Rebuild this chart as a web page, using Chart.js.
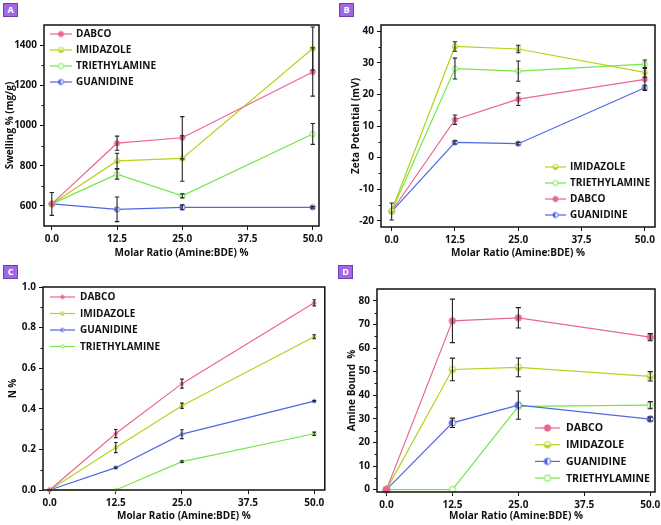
<!DOCTYPE html>
<html><head><meta charset="utf-8">
<script src="https://cdn.jsdelivr.net/npm/chart.js@4.4.1/dist/chart.umd.min.js"></script>
<style>
html,body{margin:0;padding:0;background:#fff;width:661px;height:525px;overflow:hidden;position:relative;}
.p{position:absolute;}
.badge{position:absolute;width:13px;height:12px;background:#a168e6;border:1px solid #6c3fb5;color:#fff;font:bold 9px "Open Sans",sans-serif;line-height:12px;text-align:center;}
</style></head><body>
<div class="p" style="left:0;top:0"><canvas id="cA" width="330" height="262"></canvas></div>
<div class="p" style="left:330;top:0;left:330px"><canvas id="cB" width="331" height="262"></canvas></div>
<div class="p" style="left:0;top:262px"><canvas id="cC" width="330" height="263"></canvas></div>
<div class="p" style="left:330px;top:262px"><canvas id="cD" width="345" height="263"></canvas></div>
<div class="badge" style="left:3px;top:3px">A</div>
<div class="badge" style="left:339px;top:3px">B</div>
<div class="badge" style="left:3px;top:265px">C</div>
<div class="badge" style="left:338px;top:265px">D</div>
<script>
// ---------- data ----------
const X = [0, 12.5, 25, 50];
const xTicks = [0, 12.5, 25, 37.5, 50];

const A_DABCO = [610, 912, 939, 1266], A_DABCO_ERR = [0, 35, 105, 120];
const A_IMID  = [610, 824, 836, 1383], A_IMID_ERR  = [0, 38, 113, 107];
const A_TEA   = [610, 758, 650, 958],  A_TEA_ERR   = [0, 25, 10, 52];
const A_GUAN  = [610, 583, 593, 593],  A_GUAN_ERR  = [57, 61, 12, 4];
const yTicksA = [600, 800, 1000, 1200, 1400];

const B_IMID  = [-16.8, 35.2, 34.4, 27.0], B_IMID_ERR  = [0, 1.5, 1.2, 1.5];
const B_TEA   = [-17.0, 28.2, 27.4, 29.6], B_TEA_ERR   = [0, 3.3, 3.2, 1.3];
const B_DABCO = [-17.0, 12.0, 18.5, 24.8], B_DABCO_ERR = [0, 1.5, 2.0, 3.5];
const B_GUAN  = [-17.1, 4.8, 4.4, 22.1],   B_GUAN_ERR  = [2.7, 0.5, 0.4, 0.8];
const yTicksB = [-20, -10, 0, 10, 20, 30, 40];

const C_DABCO = [0, 0.278, 0.524, 0.922], C_DABCO_ERR = [0, 0.02, 0.022, 0.015];
const C_IMID  = [0, 0.209, 0.415, 0.755], C_IMID_ERR  = [0, 0.025, 0.013, 0.01];
const C_GUAN  = [0, 0.110, 0.275, 0.438], C_GUAN_ERR  = [0, 0.003, 0.022, 0.003];
const C_TEA   = [0, 0, 0.140, 0.277],     C_TEA_ERR   = [0, 0, 0.004, 0.008];
const yTicksC = [0, 0.2, 0.4, 0.6, 0.8, 1.0];

const D_DABCO = [0, 71.5, 72.8, 64.6], D_DABCO_ERR = [0, 9.2, 4.3, 1.5];
const D_IMID  = [0, 50.9, 51.8, 48.0], D_IMID_ERR  = [0, 4.8, 4.0, 2.0];
const D_GUAN  = [0, 28.3, 35.8, 29.9], D_GUAN_ERR  = [0, 2.0, 6.0, 0.8];
const D_TEA   = [0, 0, 35.3, 35.8],    D_TEA_ERR   = [0, 0, 0, 1.5];
const yTicksD = [0, 10, 20, 30, 40, 50, 60, 70, 80];

// ---------- styles ----------
const COL = {DABCO:'#ea6690', IMIDAZOLE:'#b6d21c', TRIETHYLAMINE:'#76e64a', GUANIDINE:'#4f68e2'};
const MK = {DABCO:'filled', IMIDAZOLE:'halfBottom', TRIETHYLAMINE:'open', GUANIDINE:'halfLeft'};
const FONT = '"Open Sans", "DejaVu Sans", sans-serif';

function marker(color, type, r){
  const s = Math.ceil(2*r+3);
  const c = document.createElement('canvas'); c.width = s; c.height = s;
  const g = c.getContext('2d'); const m = s/2;
  g.lineWidth = 1; g.strokeStyle = color;
  g.beginPath(); g.arc(m, m, r, 0, Math.PI*2); g.fillStyle = type==='filled'?color:'#fff'; g.fill();
  if (type==='halfBottom'){ g.beginPath(); g.arc(m,m,r,0,Math.PI); g.closePath(); g.fillStyle=color; g.fill(); }
  if (type==='halfLeft'){ g.beginPath(); g.arc(m,m,r,Math.PI/2,Math.PI*1.5); g.closePath(); g.fillStyle=color; g.fill(); }
  g.beginPath(); g.arc(m, m, r, 0, Math.PI*2); g.stroke();
  return c;
}

function ds(name, vals, errs, r){
  return {label:name, data:X.map((x,i)=>({x, y:vals[i]})), errors:errs,
    borderColor:COL[name], backgroundColor:COL[name], borderWidth:1.2,
    pointStyle:marker(COL[name], MK[name], r), pointRadius:r, clip:false, tension:0};
}

const framePlugin = {
  id:'frame',
  afterDatasetsDraw(chart){
    const {ctx, chartArea:a} = chart;
    // error bars
    chart.data.datasets.forEach((d, di)=>{
      const meta = chart.getDatasetMeta(di); const ys = chart.scales.y;
      const cap = chart.options.plugins.frame.cap;
      ctx.save(); ctx.strokeStyle='#222'; ctx.lineWidth=1.1;
      d.data.forEach((p,i)=>{
        const e = d.errors[i]; if(!e) return;
        const px = meta.data[i].x, y1 = ys.getPixelForValue(p.y+e), y2 = ys.getPixelForValue(p.y-e);
        ctx.beginPath(); ctx.moveTo(px,y1); ctx.lineTo(px,y2);
        ctx.moveTo(px-cap,y1); ctx.lineTo(px+cap,y1); ctx.moveTo(px-cap,y2); ctx.lineTo(px+cap,y2); ctx.stroke();
      });
      ctx.restore();
    });
  },
  afterDraw(chart){
    const {ctx, chartArea:a} = chart; const o = chart.options.plugins.frame;
    ctx.save(); ctx.strokeStyle='#111'; ctx.lineWidth=1.5;
    ctx.strokeRect(a.left, a.top, a.right-a.left, a.bottom-a.top);
    // minor y ticks
    const t = o.yTicks; ctx.lineWidth=1;
    for(let i=0;i<t.length-1;i++){
      const py = Math.round(chart.scales.y.getPixelForValue((t[i]+t[i+1])/2))+0.5;
      ctx.beginPath(); ctx.moveTo(a.left,py); ctx.lineTo(a.left-2.5,py); ctx.stroke();
    }
    // legend
    const L = o.legend;
    ctx.font = 'bold '+L.size+'px '+FONT; ctx.textBaseline='middle'; ctx.fillStyle='#111';
    chart.data.datasets.forEach((d,i)=>{
      const x0 = a.left+L.dx, y0 = a.top+L.dy+i*L.row;
      ctx.strokeStyle=d.borderColor; ctx.lineWidth=1.2;
      ctx.beginPath(); ctx.moveTo(x0,y0); ctx.lineTo(x0+L.len,y0); ctx.stroke();
      const im = d.pointStyle; ctx.drawImage(im, x0+L.len/2-im.width/2, y0-im.height/2);
      ctx.fillText(d.label, x0+L.len+L.gap, y0+0.5);
    });
    ctx.restore();
  }
};

function make(id, box, xr, yr, yTicks, yFmt, yTitle, yTitlePad, sets, legend, cap){
  const [L, T, R, B, W, H] = box;
  const tickFont = {family:FONT, size:10, weight:'bold'};
  new Chart(document.getElementById(id), {
    type:'line',
    data:{datasets:sets},
    plugins:[framePlugin],
    options:{
      responsive:false, animation:false, events:[],
      layout:{padding:{left:0, top:T, right:W-R, bottom:0}},
      plugins:{legend:{display:false}, tooltip:{enabled:false},
        frame:{yTicks, legend, cap}},
      scales:{
        x:{type:'linear', min:xr[0], max:xr[1],
          afterBuildTicks(s){ s.ticks = xTicks.map(v=>({value:v})); },
          afterFit(s){ s.height = H-B; s.paddingLeft=0; s.paddingRight=0; },
          ticks:{callback:v=>v.toFixed(1), font:tickFont, color:'#111', padding:3, maxRotation:0, autoSkip:false},
          grid:{drawOnChartArea:false, drawTicks:true, tickLength:4, color:'#111', tickWidth:1},
          border:{display:false},
          title:{display:true, text:'Molar Ratio (Amine:BDE) %', font:tickFont, color:'#111', padding:{top:0,bottom:3}}},
        y:{type:'linear', min:yr[0], max:yr[1],
          afterBuildTicks(s){ s.ticks = yTicks.map(v=>({value:v})); },
          afterFit(s){ s.width = L; s.paddingTop=0; s.paddingBottom=0; },
          ticks:{callback:yFmt, font:tickFont, color:'#111', padding:3, autoSkip:false},
          grid:{drawOnChartArea:false, drawTicks:true, tickLength:4, color:'#111', tickWidth:1},
          border:{display:false},
          title:{display:true, text:yTitle, font:tickFont, color:'#111', padding:{top:yTitlePad,bottom:0}}}
      }
    }
  });
}

make('cA', [44,25,319,226,330,262], [-1.5,51.2], [500,1500], yTicksA, v=>String(v), 'Swelling % (mg/g)', 4,
  [ds('DABCO',A_DABCO,A_DABCO_ERR,2.6), ds('IMIDAZOLE',A_IMID,A_IMID_ERR,2.6), ds('TRIETHYLAMINE',A_TEA,A_TEA_ERR,2.6), ds('GUANIDINE',A_GUAN,A_GUAN_ERR,2.6)],
  {dx:6, dy:9, row:16, len:22, gap:4, size:10}, 2.2);

make('cB', [51,25,325,227,331,262], [-2.1,52], [-22,42], yTicksB, v=>String(v), 'Zeta Potential (mV)', 20,
  [ds('IMIDAZOLE',B_IMID,B_IMID_ERR,2.6), ds('TRIETHYLAMINE',B_TEA,B_TEA_ERR,2.6), ds('DABCO',B_DABCO,B_DABCO_ERR,2.6), ds('GUANIDINE',B_GUAN,B_GUAN_ERR,2.6)],
  {dx:164, dy:142, row:16, len:21, gap:4, size:10}, 2.2);

make('cC', [43,25,325,228,330,263], [-1.26,52], [0,1.0], yTicksC, v=>v.toFixed(1), 'N %', 7,
  [ds('DABCO',C_DABCO,C_DABCO_ERR,1.7), ds('IMIDAZOLE',C_IMID,C_IMID_ERR,1.7), ds('GUANIDINE',C_GUAN,C_GUAN_ERR,1.7), ds('TRIETHYLAMINE',C_TEA,C_TEA_ERR,1.7)],
  {dx:7, dy:10, row:16.5, len:25, gap:5, size:10}, 1.8);

make('cD', [47,27,325,230,345,263], [-1.8,50.9], [-1,85], yTicksD, v=>String(v), 'Amine Bound  %', 16,
  [ds('DABCO',D_DABCO,D_DABCO_ERR,3.2), ds('IMIDAZOLE',D_IMID,D_IMID_ERR,3.2), ds('GUANIDINE',D_GUAN,D_GUAN_ERR,3.2), ds('TRIETHYLAMINE',D_TEA,D_TEA_ERR,3.2)],
  {dx:158, dy:139, row:16.7, len:25, gap:6, size:10.5}, 2.6);
</script>
</body></html>
